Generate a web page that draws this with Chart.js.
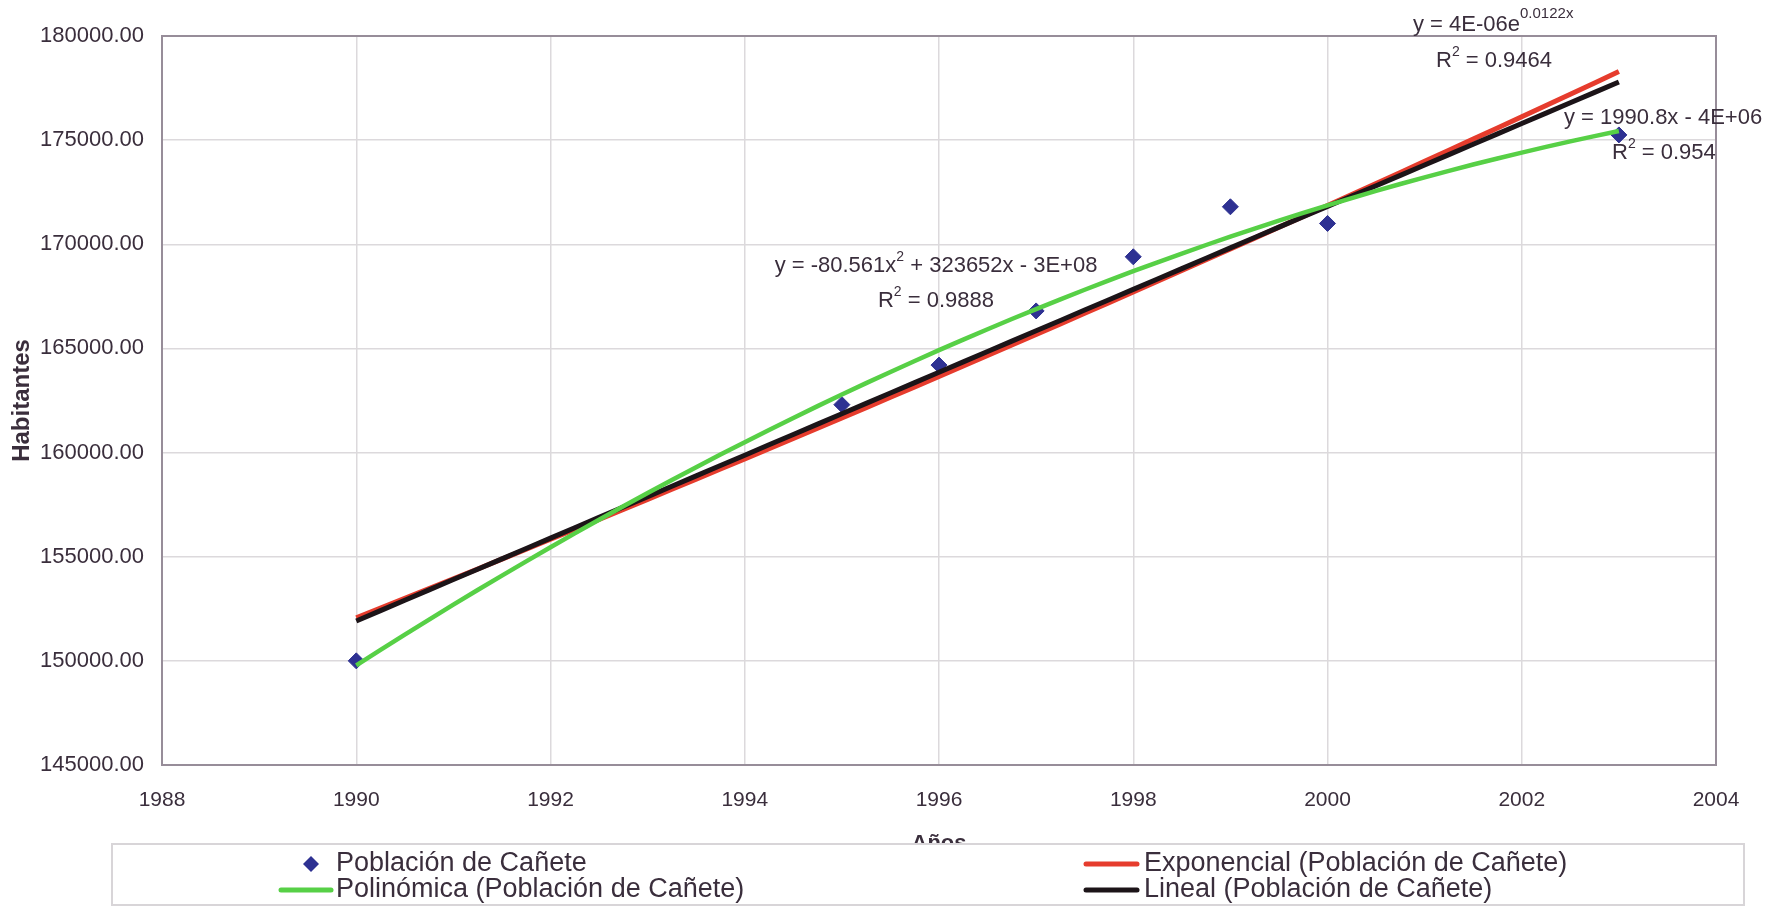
<!DOCTYPE html>
<html lang="es">
<head>
<meta charset="utf-8">
<title>Población de Cañete</title>
<script src="https://cdn.jsdelivr.net/npm/chart.js@4.4.1/dist/chart.umd.min.js"></script>
<style>
  html, body { margin: 0; padding: 0; background: #fff; }
  canvas { display: block; }
</style>
</head>
<body>
<canvas id="grafico" width="1778" height="908"></canvas>
<script>
// censos y estimaciones de población
const anios = [1990, 1995, 1996, 1997, 1998, 1999, 2000, 2003]
const poblacion = [150000, 162300, 164200, 166800, 169400, 171800, 171000, 175250]

const ticksX = [1988, 1990, 1992, 1994, 1996, 1998, 2000, 2002, 2004]
const ticksY = [145000, 150000, 155000, 160000, 165000, 170000, 175000, 180000]

const FUENTE = "'Liberation Sans', Arial, sans-serif"
const COLOR_TEXTO = '#3a2e3c'

function media(v) {
    return v.reduce((a, b) => a + b, 0) / v.length
}

// mínimos cuadrados: recta
function ajusteLineal(xs, ys) {
    const mx = media(xs)
    const my = media(ys)
    let sxy = 0
    let sxx = 0
    xs.forEach((x, i) => {
        sxy += (x - mx) * (ys[i] - my)
        sxx += (x - mx) * (x - mx)
    })
    const m = sxy / sxx
    return x => my + m * (x - mx)
}

// mínimos cuadrados: parábola (x centrado para no perder precisión)
function ajustePolinomico(xs, ys) {
    const mx = media(xs)
    const s = [0, 0, 0, 0, 0]
    const t = [0, 0, 0]
    xs.forEach((x, i) => {
        const u = x - mx
        for (let k = 0; k < 5; k++) s[k] += Math.pow(u, k)
        for (let k = 0; k < 3; k++) t[k] += ys[i] * Math.pow(u, k)
    })
    const A = [[s[0], s[1], s[2]], [s[1], s[2], s[3]], [s[2], s[3], s[4]]]
    const det = m =>
        m[0][0] * (m[1][1] * m[2][2] - m[1][2] * m[2][1]) -
        m[0][1] * (m[1][0] * m[2][2] - m[1][2] * m[2][0]) +
        m[0][2] * (m[1][0] * m[2][1] - m[1][1] * m[2][0])
    const D = det(A)
    const coef = [0, 1, 2].map(c => {
        const M = A.map((fila, r) => fila.map((v, k) => (k === c ? t[r] : v)))
        return det(M) / D
    })
    return x => {
        const u = x - mx
        return coef[0] + coef[1] * u + coef[2] * u * u
    }
}

function ajusteExponencial(xs, ys) {
    const f = ajusteLineal(xs, ys.map(Math.log))
    return x => Math.exp(f(x))
}

function curva(f) {
    const ini = anios[0]
    const fin = anios[anios.length - 1]
    const pts = []
    for (let x = ini; x <= fin + 1e-9; x += 0.25) pts.push({ x: x, y: f(x) })
    return pts
}

const puntos = anios.map((a, i) => ({ x: a, y: poblacion[i] }))

// texto con partes en superíndice
function textoSup(ctx, partes, x, y, alinear) {
    const normal = '22px ' + FUENTE
    let ancho = 0
    partes.forEach(p => {
        ctx.font = p.sup ? (p.tam || 14) + 'px ' + FUENTE : normal
        ancho += ctx.measureText(p.t).width
    })
    let cx = alinear === 'center' ? x - ancho / 2 : x
    ctx.textAlign = 'left'
    ctx.textBaseline = 'middle'
    partes.forEach(p => {
        ctx.font = p.sup ? (p.tam || 14) + 'px ' + FUENTE : normal
        ctx.fillText(p.t, cx, p.sup ? y - (p.sube || 9) : y)
        cx += ctx.measureText(p.t).width
    })
}

const fondo = {
    id: 'fondo',
    beforeDraw(chart) {
        const ctx = chart.ctx
        ctx.save()
        ctx.fillStyle = '#ffffff'
        ctx.fillRect(0, 0, chart.width, chart.height)
        ctx.restore()
    },
    beforeDatasetsDraw(chart) {
        const { ctx, chartArea: a } = chart
        ctx.save()
        ctx.strokeStyle = '#978d99'
        ctx.lineWidth = 2
        ctx.strokeRect(a.left, a.top, a.right - a.left, a.bottom - a.top)
        ctx.restore()
    },
}

const ecuaciones = {
    id: 'ecuaciones',
    afterDatasetsDraw(chart) {
        const ctx = chart.ctx
        ctx.save()
        ctx.fillStyle = COLOR_TEXTO
        textoSup(ctx, [{ t: 'y = -80.561x' }, { t: '2', sup: true }, { t: ' + 323652x - 3E+08' }], 936, 266, 'center')
        textoSup(ctx, [{ t: 'R' }, { t: '2', sup: true }, { t: ' = 0.9888' }], 936, 301, 'center')
        textoSup(ctx, [{ t: 'y = 4E-06e' }, { t: '0.0122x', sup: true, tam: 15, sube: 11 }], 1413, 25, 'left')
        textoSup(ctx, [{ t: 'R' }, { t: '2', sup: true }, { t: ' = 0.9464' }], 1436, 61, 'left')
        textoSup(ctx, [{ t: 'y = 1990.8x - 4E+06' }], 1564, 118, 'left')
        textoSup(ctx, [{ t: 'R' }, { t: '2', sup: true }, { t: ' = 0.954' }], 1612, 153, 'left')
        ctx.restore()
    },
}

const leyenda = {
    id: 'leyenda',
    afterDraw(chart) {
        const ctx = chart.ctx
        const ds = chart.data.datasets
        ctx.save()
        ctx.fillStyle = '#ffffff'
        ctx.fillRect(112, 844, 1632, 61)
        ctx.strokeStyle = '#d8d5d8'
        ctx.lineWidth = 2
        ctx.strokeRect(112, 844, 1632, 61)

        const filas = [864, 890]
        const entradas = [
            { i: 0, col: 0, fila: 0 },
            { i: 1, col: 1, fila: 0 },
            { i: 3, col: 0, fila: 1 },
            { i: 2, col: 1, fila: 1 },
        ]
        const cols = [{ l0: 281, l1: 331, tx: 336 }, { l0: 1086, l1: 1137, tx: 1144 }]
        ctx.font = '27px ' + FUENTE
        ctx.textBaseline = 'middle'
        ctx.textAlign = 'left'
        entradas.forEach(e => {
            const d = ds[e.i]
            const c = cols[e.col]
            const y = filas[e.fila]
            if (!d.showLine) {
                const r = 8
                const cx = (c.l0 + c.l1) / 2 + 5
                ctx.fillStyle = d.backgroundColor
                ctx.beginPath()
                ctx.moveTo(cx, y - r)
                ctx.lineTo(cx + r, y)
                ctx.lineTo(cx, y + r)
                ctx.lineTo(cx - r, y)
                ctx.closePath()
                ctx.fill()
            } else {
                ctx.strokeStyle = d.borderColor
                ctx.lineWidth = 5
                ctx.lineCap = 'round'
                ctx.beginPath()
                ctx.moveTo(c.l0, y)
                ctx.lineTo(c.l1, y)
                ctx.stroke()
            }
            ctx.fillStyle = COLOR_TEXTO
            ctx.fillText(d.label, c.tx, y)
        })
        ctx.restore()
    },
}

function render_chart() {
    const data = {
        datasets: [
            {
                label: 'Población de Cañete',
                data: puntos,
                showLine: false,
                pointStyle: 'rectRot',
                pointRadius: 8,
                pointHoverRadius: 8,
                backgroundColor: '#2e3192',
                borderColor: '#2e3192',
                borderWidth: 1,
                order: 4,
            },
            {
                label: 'Exponencial (Población de Cañete)',
                data: curva(ajusteExponencial(anios, poblacion)),
                showLine: true,
                borderColor: '#e63c2d',
                backgroundColor: '#e63c2d',
                borderWidth: 5,
                pointRadius: 0,
                order: 3,
            },
            {
                label: 'Lineal (Población de Cañete)',
                data: curva(ajusteLineal(anios, poblacion)),
                showLine: true,
                borderColor: '#1c1418',
                backgroundColor: '#1c1418',
                borderWidth: 5,
                pointRadius: 0,
                order: 2,
            },
            {
                label: 'Polinómica (Población de Cañete)',
                data: curva(ajustePolinomico(anios, poblacion)),
                showLine: true,
                borderColor: '#57d046',
                backgroundColor: '#57d046',
                borderWidth: 4.5,
                pointRadius: 0,
                order: 1,
            },
        ],
    }
    const config = {
        type: 'scatter',
        data: data,
        options: {
            responsive: false,
            animation: false,
            devicePixelRatio: 1,
            layout: { padding: { top: 36, right: 62, left: 0, bottom: 0 } },
            plugins: { legend: { display: false }, tooltip: { enabled: false } },
            scales: {
                x: {
                    type: 'linear',
                    min: ticksX[0],
                    max: ticksX[ticksX.length - 1],
                    afterBuildTicks: s => { s.ticks = ticksX.map(v => ({ value: v })) },
                    afterFit: s => { s.height = 143 },
                    grid: { color: '#dcd9dc', lineWidth: 1.5, drawTicks: false },
                    border: { color: '#978d99', width: 2 },
                    ticks: {
                        padding: 23,
                        color: COLOR_TEXTO,
                        font: { family: FUENTE, size: 21 },
                        callback: v => String(v),
                    },
                    title: {
                        display: true,
                        text: 'Años',
                        color: COLOR_TEXTO,
                        font: { family: FUENTE, size: 22, weight: 'bold' },
                        padding: { top: 0, bottom: 51 },
                    },
                },
                y: {
                    type: 'linear',
                    min: ticksY[0],
                    max: ticksY[ticksY.length - 1],
                    afterBuildTicks: s => { s.ticks = ticksY.map(v => ({ value: v })) },
                    afterFit: s => { s.width = 162 },
                    grid: { color: '#dcd9dc', lineWidth: 1.5, drawTicks: false },
                    border: { color: '#978d99', width: 2 },
                    ticks: {
                        padding: 18,
                        color: COLOR_TEXTO,
                        font: { family: FUENTE, size: 22 },
                        callback: v => v.toFixed(2),
                    },
                    title: {
                        display: true,
                        text: 'Habitantes',
                        color: COLOR_TEXTO,
                        font: { family: FUENTE, size: 24, weight: 'bold' },
                        padding: { top: 8, bottom: 0 },
                    },
                },
            },
        },
        plugins: [fondo, ecuaciones, leyenda],
    }
    new Chart(document.getElementById('grafico'), config)
}
document.addEventListener('DOMContentLoaded', render_chart)
</script>
</body>
</html>
